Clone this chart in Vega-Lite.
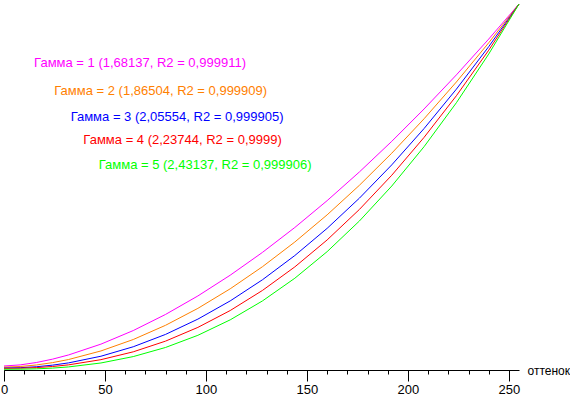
{
  "$schema": "https://vega.github.io/schema/vega-lite/v6.json",
  "width": 515,
  "height": 366,
  "autosize": {"type": "none"},
  "padding": {"left": 4, "top": 4, "right": 51, "bottom": 26},
  "background": "white",
  "config": {"view": {"stroke": null}, "font": "Liberation Sans"},
  "datasets": {
    "curves": [
      {"s": "1", "x": 0, "y": 0.011}, {"s": "1", "x": 8, "y": 0.01393}, {"s": "1", "x": 16, "y": 0.02041}, {"s": "1", "x": 24, "y": 0.0296}, {"s": "1", "x": 32, "y": 0.04117}, {"s": "1", "x": 48, "y": 0.07067}, {"s": "1", "x": 64, "y": 0.10777}, {"s": "1", "x": 80, "y": 0.15183}, {"s": "1", "x": 96, "y": 0.20235}, {"s": "1", "x": 112, "y": 0.25897}, {"s": "1", "x": 128, "y": 0.32143}, {"s": "1", "x": 144, "y": 0.38938}, {"s": "1", "x": 160, "y": 0.46271}, {"s": "1", "x": 176, "y": 0.54122}, {"s": "1", "x": 192, "y": 0.62475}, {"s": "1", "x": 208, "y": 0.71316}, {"s": "1", "x": 224, "y": 0.80634}, {"s": "1", "x": 240, "y": 0.90416}, {"s": "1", "x": 255, "y": 1},
      {"s": "2", "x": 0, "y": 0.008}, {"s": "2", "x": 8, "y": 0.00956}, {"s": "2", "x": 16, "y": 0.01368}, {"s": "2", "x": 24, "y": 0.02009}, {"s": "2", "x": 32, "y": 0.02867}, {"s": "2", "x": 48, "y": 0.05204}, {"s": "2", "x": 64, "y": 0.0833}, {"s": "2", "x": 80, "y": 0.12217}, {"s": "2", "x": 96, "y": 0.16841}, {"s": "2", "x": 112, "y": 0.22184}, {"s": "2", "x": 128, "y": 0.28232}, {"s": "2", "x": 144, "y": 0.3497}, {"s": "2", "x": 160, "y": 0.42391}, {"s": "2", "x": 176, "y": 0.50481}, {"s": "2", "x": 192, "y": 0.59235}, {"s": "2", "x": 208, "y": 0.68643}, {"s": "2", "x": 224, "y": 0.78699}, {"s": "2", "x": 240, "y": 0.89396}, {"s": "2", "x": 255, "y": 1},
      {"s": "3", "x": 0, "y": 0.0055}, {"s": "3", "x": 8, "y": 0.00631}, {"s": "3", "x": 16, "y": 0.00886}, {"s": "3", "x": 24, "y": 0.01323}, {"s": "3", "x": 32, "y": 0.01946}, {"s": "3", "x": 48, "y": 0.03762}, {"s": "3", "x": 64, "y": 0.06352}, {"s": "3", "x": 80, "y": 0.09728}, {"s": "3", "x": 96, "y": 0.13901}, {"s": "3", "x": 112, "y": 0.18878}, {"s": "3", "x": 128, "y": 0.24667}, {"s": "3", "x": 144, "y": 0.31273}, {"s": "3", "x": 160, "y": 0.38702}, {"s": "3", "x": 176, "y": 0.46959}, {"s": "3", "x": 192, "y": 0.56049}, {"s": "3", "x": 208, "y": 0.65975}, {"s": "3", "x": 224, "y": 0.76741}, {"s": "3", "x": 240, "y": 0.88348}, {"s": "3", "x": 255, "y": 1},
      {"s": "4", "x": 0, "y": 0.0045}, {"s": "4", "x": 8, "y": 0.00493}, {"s": "4", "x": 16, "y": 0.00653}, {"s": "4", "x": 24, "y": 0.00953}, {"s": "4", "x": 32, "y": 0.01408}, {"s": "4", "x": 48, "y": 0.02823}, {"s": "4", "x": 64, "y": 0.04966}, {"s": "4", "x": 80, "y": 0.07891}, {"s": "4", "x": 96, "y": 0.11638}, {"s": "4", "x": 112, "y": 0.16247}, {"s": "4", "x": 128, "y": 0.21747}, {"s": "4", "x": 144, "y": 0.28169}, {"s": "4", "x": 160, "y": 0.35536}, {"s": "4", "x": 176, "y": 0.43877}, {"s": "4", "x": 192, "y": 0.53211}, {"s": "4", "x": 208, "y": 0.63558}, {"s": "4", "x": 224, "y": 0.7494}, {"s": "4", "x": 240, "y": 0.87373}, {"s": "4", "x": 255, "y": 1},
      {"s": "5", "x": 0, "y": 0.002}, {"s": "5", "x": 8, "y": 0.00222}, {"s": "5", "x": 16, "y": 0.00319}, {"s": "5", "x": 24, "y": 0.00519}, {"s": "5", "x": 32, "y": 0.00842}, {"s": "5", "x": 48, "y": 0.01921}, {"s": "5", "x": 64, "y": 0.03663}, {"s": "5", "x": 80, "y": 0.06158}, {"s": "5", "x": 96, "y": 0.09481}, {"s": "5", "x": 112, "y": 0.13701}, {"s": "5", "x": 128, "y": 0.18879}, {"s": "5", "x": 144, "y": 0.25072}, {"s": "5", "x": 160, "y": 0.32335}, {"s": "5", "x": 176, "y": 0.40715}, {"s": "5", "x": 192, "y": 0.50261}, {"s": "5", "x": 208, "y": 0.61015}, {"s": "5", "x": 224, "y": 0.73024}, {"s": "5", "x": 240, "y": 0.86323}, {"s": "5", "x": 255, "y": 1}
    ],
    "labels": [
      {"s": "1", "t": "Гамма = 1 (1,68137, R2 = 0,999911)", "lx": 14.9, "ly": 0.839},
      {"s": "2", "t": "Гамма = 2 (1,86504, R2 = 0,999909)", "lx": 24.9, "ly": 0.762},
      {"s": "3", "t": "Гамма = 3 (2,05554, R2 = 0,999905)", "lx": 33.0, "ly": 0.691},
      {"s": "4", "t": "Гамма = 4 (2,23744, R2 = 0,9999)", "lx": 39.3, "ly": 0.628},
      {"s": "5", "t": "Гамма = 5 (2,43137, R2 = 0,999906)", "lx": 46.9, "ly": 0.559}
    ]
  },
  "resolve": {"axis": {"x": "independent"}},
  "layer": [
    {
      "data": {"name": "curves"},
      "mark": {"type": "line", "strokeWidth": 1},
      "encoding": {
        "x": {
          "field": "x", "type": "quantitative",
          "scale": {"domain": [0, 255], "nice": false, "zero": false},
          "axis": {
            "orient": "bottom",
            "values": [0, 50, 100, 150, 200, 250],
            "tickSize": 11,
            "labelPadding": 2,
            "labelFlush": false,
            "labelOverlap": false,
            "labelFont": "Liberation Sans",
            "labelFontSize": 13,
            "labelColor": "black",
            "grid": false,
            "domainColor": "black",
            "tickColor": "black",
            "title": "оттенок",
            "titleFont": "Liberation Sans",
            "titleFontSize": 12,
            "titleFontWeight": "normal",
            "titleColor": "black",
            "titleAlign": "left",
            "titleBaseline": "middle",
            "titleAnchor": "start",
            "titleX": 523,
            "titleY": 0
          }
        },
        "y": {"field": "y", "type": "quantitative", "scale": {"domain": [0, 1], "nice": false}, "axis": null},
        "color": {
          "field": "s", "type": "nominal",
          "scale": {"domain": ["1", "2", "3", "4", "5"], "range": ["#ff00ff", "#ff8000", "#0000ff", "#ff0000", "#00ff00"]},
          "legend": null
        }
      }
    },
    {
      "data": {"name": "labels"},
      "mark": {"type": "text", "align": "left", "baseline": "middle", "fontSize": 13, "font": "Liberation Sans"},
      "encoding": {
        "x": {
          "field": "lx", "type": "quantitative",
          "axis": {
            "orient": "bottom",
            "values": [0, 10, 20, 30, 40, 50, 60, 70, 80, 90, 100, 110, 120, 130, 140, 150, 160, 170, 180, 190, 200, 210, 220, 230, 240, 250],
            "tickSize": 4,
            "tickColor": "black",
            "labels": false,
            "domain": false,
            "grid": false,
            "title": null
          }
        },
        "y": {"field": "ly", "type": "quantitative"},
        "text": {"field": "t"},
        "color": {"field": "s", "type": "nominal", "legend": null}
      }
    }
  ]
}
